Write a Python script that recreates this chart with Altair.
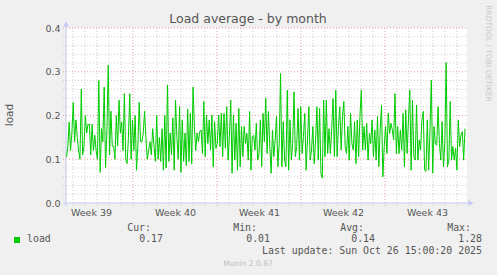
import json
import altair as alt
import pandas as pd

# ---------------- data ----------------
TITLE = "Load average - by month"
Y_LABEL = "load"
SIDE_TEXT = "RRDTOOL / TOBI OETIKER"
FOOTER = "Munin 2.0.67"
LAST_UPDATE = "Last update: Sun Oct 26 15:00:20 2025"
SERIES_NAME = "load"
CUR, MIN, AVG, MAX = "0.17", "0.01", "0.14", "1.28"

WEEK_LABELS = ["Week 39", "Week 40", "Week 41", "Week 42", "Week 43"]
WEEK_CENTERS = [84, 252, 420, 588, 756]      # hours since Mon 22 Sep 00:00
WEEK_STARTS = [168, 336, 504, 672]
DAY_LINES = [h for h in range(48, 836, 24) if h % 168 != 0]
X_DOMAIN = [34, 836]

Y_TICKS = [0.0, 0.1, 0.2, 0.3, 0.4]
Y_MAJOR = [0.1, 0.2, 0.3, 0.4]
Y_MINOR = [0.02, 0.04, 0.06, 0.08, 0.12, 0.14, 0.16, 0.18, 0.22, 0.24, 0.26,
           0.28, 0.32, 0.34, 0.36, 0.38]

# 2-hourly load averages, segment by segment
seg_a = [0.105, 0.13, 0.185, 0.12, 0.16, 0.23, 0.14, 0.19, 0.15, 0.12, 0.10, 0.26,
         0.11, 0.13, 0.20, 0.16, 0.18, 0.18, 0.11, 0.18, 0.12, 0.155, 0.12, 0.10,
         0.28, 0.07, 0.17, 0.14, 0.265, 0.08, 0.16, 0.315, 0.11, 0.21, 0.13, 0.13,
         0.10, 0.20, 0.13, 0.235, 0.16, 0.185, 0.12, 0.25, 0.10, 0.09, 0.15, 0.25]
seg_b = [0.10, 0.19, 0.12, 0.20, 0.075, 0.13, 0.23, 0.14, 0.14, 0.16, 0.21, 0.15,
         0.10, 0.12, 0.14, 0.11, 0.17, 0.13, 0.095, 0.20, 0.10, 0.15, 0.095, 0.17,
         0.075, 0.20, 0.08, 0.27, 0.095, 0.16, 0.11, 0.195, 0.075, 0.235, 0.15, 0.10,
         0.22, 0.07, 0.19, 0.095, 0.16, 0.085, 0.215, 0.095, 0.205, 0.09, 0.265,
         0.175, 0.12, 0.16, 0.14]
seg_c = [0.163, 0.167, 0.113, 0.232, 0.106, 0.201, 0.136, 0.19, 0.121, 0.201, 0.083,
         0.186, 0.125, 0.136, 0.201, 0.129, 0.205, 0.106, 0.205, 0.125, 0.22, 0.098,
         0.152, 0.235, 0.068, 0.201, 0.098, 0.182, 0.075, 0.216, 0.083, 0.175, 0.106,
         0.175, 0.136, 0.159, 0.098, 0.209, 0.075, 0.152, 0.155, 0.121, 0.182, 0.098,
         0.113, 0.19, 0.083, 0.205, 0.14, 0.239]
seg_d = [0.113, 0.209, 0.129, 0.068, 0.167, 0.106, 0.144, 0.198, 0.083, 0.136, 0.296,
         0.083, 0.186, 0.098, 0.083, 0.258, 0.075, 0.19, 0.098, 0.136, 0.254, 0.106,
         0.129, 0.216, 0.098, 0.22, 0.113, 0.152, 0.205, 0.075, 0.144, 0.22, 0.098,
         0.121, 0.175, 0.09, 0.144, 0.22, 0.098, 0.216, 0.068, 0.057, 0.235, 0.106,
         0.235, 0.113, 0.17, 0.113, 0.17]
seg_e = [0.239, 0.106, 0.258, 0.106, 0.175, 0.22, 0.121, 0.198, 0.232, 0.129, 0.113,
         0.175, 0.098, 0.205, 0.136, 0.121, 0.186, 0.09, 0.19, 0.106, 0.201, 0.258,
         0.121, 0.175, 0.121, 0.182, 0.098, 0.159, 0.136, 0.19, 0.106, 0.167, 0.098,
         0.198, 0.083, 0.167, 0.224, 0.06, 0.129, 0.175, 0.113, 0.205, 0.159, 0.182,
         0.167, 0.144, 0.25, 0.113, 0.175]
seg_f = [0.113, 0.167, 0.121, 0.205, 0.083, 0.213, 0.113, 0.19, 0.258, 0.075, 0.235,
         0.106, 0.098, 0.224, 0.098, 0.144, 0.121, 0.19, 0.209, 0.075, 0.072, 0.19,
         0.075, 0.167, 0.281, 0.068, 0.175, 0.136, 0.132, 0.22, 0.136, 0.098, 0.186,
         0.083, 0.136, 0.321, 0.083, 0.098, 0.232, 0.098, 0.129, 0.098, 0.125, 0.075,
         0.19, 0.129, 0.155, 0.163, 0.098, 0.17]

load = seg_a + seg_b + seg_c + seg_d + seg_e + seg_f
T_FIRST, T_LAST = 35.0, 832.0
n = len(load)
hours = [T_FIRST + i * (T_LAST - T_FIRST) / (n - 1) for i in range(n)]
df = pd.DataFrame({"h": hours, "load": load})

# ---------------- style ----------------
W, H = 401, 175
GREEN = "#00cc00"
TXT = "#555555"
AXIS_BLUE = "#c4c8f4"
MINOR_C = "#cfcfcf"
MAJOR_C = "#e4a0a0"
SANS = "DejaVu Sans"
MONO = "DejaVu Sans Mono"

xs = alt.Scale(domain=X_DOMAIN, nice=False, zero=False)
ys = alt.Scale(domain=[0, 0.4], nice=False, zero=True)

label_expr = json.dumps(WEEK_LABELS) + "[floor(datum.value / 168)]"
AX_X = alt.Axis(values=WEEK_CENTERS, labelExpr=label_expr, grid=False, ticks=False,
                domain=False, labelFont=SANS, labelFontSize=9.5, labelColor=TXT,
                labelPadding=4, labelFlush=False, title=None)
AX_Y = alt.Axis(values=Y_TICKS, format=".1f", grid=False, ticks=False, domain=False,
                labelFont=SANS, labelFontSize=9.5, labelColor=TXT, labelPadding=6,
                labelFlush=False, title=None)

one = pd.DataFrame({"a": [0]})


def hrules(vals, color):
    return alt.Chart(pd.DataFrame({"v": vals})).mark_rule(
        color=color, strokeDash=[1, 2], strokeWidth=1
    ).encode(y=alt.Y("v:Q", scale=ys, axis=AX_Y), x=alt.value(-3), x2=alt.value(W))


def vrules(vals, color):
    return alt.Chart(pd.DataFrame({"v": vals})).mark_rule(
        color=color, strokeDash=[1, 2], strokeWidth=1
    ).encode(x=alt.X("v:Q", scale=xs, axis=AX_X), y=alt.value(0), y2=alt.value(H + 3))


def txt(s, x, y, size=9.9, font=MONO, color=TXT, align="right", angle=0):
    return alt.Chart(pd.DataFrame({"s": [s]})).mark_text(
        font=font, fontSize=size, color=color, align=align, baseline="middle", angle=angle
    ).encode(x=alt.value(x), y=alt.value(y), text="s:N")


line = alt.Chart(df).mark_line(color=GREEN, strokeWidth=1).encode(
    x=alt.X("h:Q", scale=xs, axis=AX_X),
    y=alt.Y("load:Q", scale=ys, axis=AX_Y),
)

axis_left = alt.Chart(one).mark_rule(color=AXIS_BLUE, strokeWidth=1).encode(
    x=alt.value(0), y=alt.value(-2), y2=alt.value(H + 3))
axis_bottom = alt.Chart(one).mark_rule(color=AXIS_BLUE, strokeWidth=1).encode(
    y=alt.value(H), x=alt.value(-3), x2=alt.value(W + 2))
arrow_up = alt.Chart(one).mark_point(shape="triangle-up", filled=True, color=AXIS_BLUE,
                                     opacity=1, size=34).encode(x=alt.value(0), y=alt.value(-4))
arrow_right = alt.Chart(one).mark_point(shape="triangle-right", filled=True, color=AXIS_BLUE,
                                        opacity=1, size=34).encode(x=alt.value(W + 4), y=alt.value(H))
legend_box = alt.Chart(one).mark_square(color=GREEN, filled=True, opacity=1, size=36).encode(
    x=alt.value(-49), y=alt.value(212))

texts = [
    txt(TITLE, 182, -9, size=12.5, font=SANS, align="center"),
    txt(Y_LABEL, -56, 87, size=10.5, font=SANS, align="center", angle=270),
    txt(SIDE_TEXT, 422, 25.5, size=7.5, font=SANS, color="#c8c8c8", align="center", angle=90),
    txt(SERIES_NAME, -39, 211, align="left"),
    txt("Cur:", 85, 200), txt(CUR, 97, 211),
    txt("Min:", 191, 200), txt(MIN, 204, 211),
    txt("Avg:", 298, 200), txt(AVG, 309, 211),
    txt("Max:", 405, 200), txt(MAX, 416, 211),
    txt(LAST_UPDATE, 416, 223),
    txt(FOOTER, 182, 236, size=7.6, font=SANS, color="#bdbdbd", align="center"),
]

chart = alt.layer(
    hrules(Y_MINOR, MINOR_C), vrules(DAY_LINES, MINOR_C),
    hrules(Y_MAJOR, MAJOR_C), vrules(WEEK_STARTS, MAJOR_C),
    axis_left, axis_bottom, arrow_up, arrow_right,
    line, legend_box, *texts,
).properties(
    width=W, height=H, background="#f0f0f0",
    padding={"left": 66, "top": 28, "right": 30, "bottom": 72},
    autosize=alt.AutoSizeParams(type="none"),
).configure_view(fill="white", stroke=None)

chart.save("out.html", embed_options={"renderer": "svg", "actions": False})
